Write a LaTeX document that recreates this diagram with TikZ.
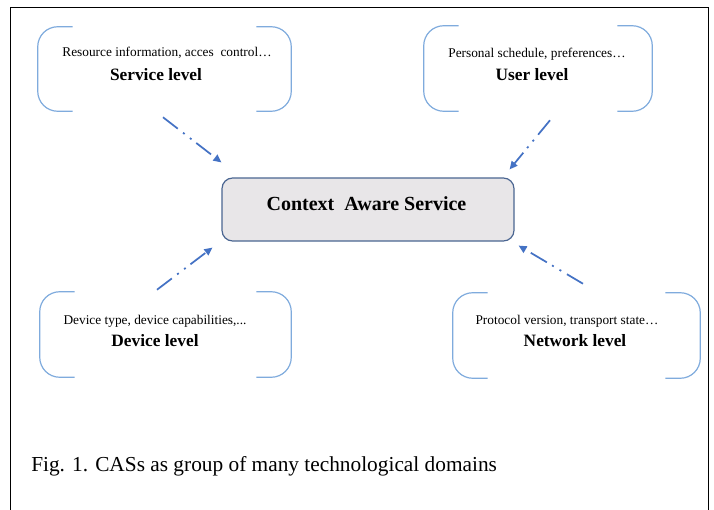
\documentclass[tikz,border=0pt]{standalone}
\usepackage{fontspec}
\setmainfont{Liberation Serif}
\usetikzlibrary{arrows.meta,fit,calc}
\definecolor{brkblue}{HTML}{7FABDD}
\definecolor{arrblue}{HTML}{4472C4}
\definecolor{casfill}{HTML}{E8E6E8}
\definecolor{casdraw}{HTML}{4A6591}
\newcommand\drawbrackets[1]{%
  \draw[brk] ($(#1.north west)+(35,0)$) -- (#1.north west) -- (#1.south west) -- ($(#1.south west)+(35,0)$);
  \draw[brk] ($(#1.north east)+(-35,0)$) -- (#1.north east) -- (#1.south east) -- ($(#1.south east)+(-35,0)$);}
\begin{document}
\begin{tikzpicture}[x=0.75pt,y=-0.75pt,
  grp/.style={draw=none,inner sep=0pt},
  brk/.style={draw=brkblue,line width=0.9pt,rounded corners=15pt},
  smalltxt/.style={font=\fontsize{10}{12}\selectfont,inner sep=0pt,anchor=base},
  boldtxt/.style={font=\fontsize{13}{15}\selectfont\bfseries,inner sep=0pt,anchor=base},
  casbox/.style={draw=casdraw,fill=casfill,line width=0.9pt,rounded corners=8pt,minimum width=292*0.75pt,minimum height=63*0.75pt,inner sep=0pt},
  arr/.style={draw=arrblue,line width=1.3pt,dash pattern=on 14pt off 5pt on 1.5pt off 5pt on 1.5pt off 4.5pt,-{Triangle[length=6pt,width=5.5pt]}},
  frame/.style={draw=black,line width=1pt}]
\useasboundingbox (0,0) rectangle (714,510);
\clip (0,0) rectangle (714,510);
% frame
\draw[frame] (10.5,512) -- (10.5,7.5) -- (708.5,7.5) -- (708.5,512);
% group boxes
\node[grp, fit={(38,27) (291,111)}] (sl) {};
\node[grp, fit={(424,26) (652,111)}] (ul) {};
\node[grp, fit={(40,292) (291,377)}] (dl) {};
\node[grp, fit={(453,293) (700,378)}] (nl) {};
\drawbrackets{sl}
\drawbrackets{ul}
\drawbrackets{dl}
\drawbrackets{nl}
% texts
\node[smalltxt] (slt) at (167,57) {Resource information, acces\ \ control…};
\node[boldtxt] (slb) at (156,81) {Service level};
\node[smalltxt] (ult) at (537,58) {Personal schedule, preferences…};
\node[boldtxt] (ulb) at (532,81) {User level};
\node[smalltxt] (dlt) at (155,324) {Device type, device capabilities,...};
\node[boldtxt] (dlb) at (155,346) {Device level};
\node[smalltxt] (nlt) at (567,324) {Protocol version, transport state…};
\node[boldtxt] (nlb) at (575,346) {Network level};
% center
\node[casbox] (cas) at (368,209.5) {};
\node[font=\fontsize{15}{18}\selectfont\bfseries,inner sep=0pt,anchor=base] (cast) at (366.5,210) {Context\ \ Aware Service};
% arrows
\draw[arr] ($(sl.south)+(-1.5,6)$) -- ($(cas.north west)+(0,-15)$);
\draw[arr] ($(ul.south)+(12,9)$) -- ($(cas.north east)+(-5,-8)$);
\draw[arr] ($(dl.north)+(-8.5,-2)$) -- ($(cas.south west)+(-9,6)$);
\draw[arr] ($(nl.north)+(6.5,-9)$) -- ($(cas.south east)+(4,4)$);
% caption
\node[font=\fontsize{16}{19}\selectfont,inner sep=0pt,anchor=base west] (cap) at (31,471) {Fig. 1. CASs as group of many technological domains};
\end{tikzpicture}
\end{document}
